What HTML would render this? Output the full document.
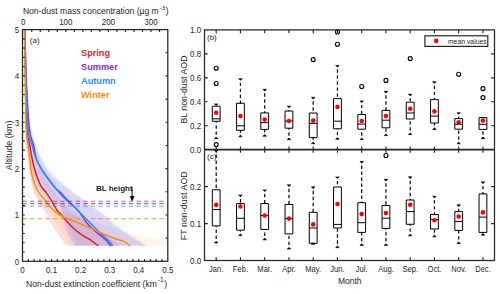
<!DOCTYPE html>
<html><head><meta charset="utf-8"><style>
html,body{margin:0;padding:0;background:#fff;width:500px;height:294px;overflow:hidden}
svg{display:block}
text{font-family:"Liberation Sans", sans-serif}
</style></head><body>
<svg width="500" height="294" viewBox="0 0 500 294">
<defs><filter id="sb" x="-5%" y="-5%" width="110%" height="110%"><feGaussianBlur stdDeviation="0.6"/></filter><clipPath id="lc"><rect x="22.5" y="29.6" width="145.3" height="231.7"/></clipPath></defs>
<g clip-path="url(#lc)"><g filter="url(#sb)">
<path d="M25.00,30.00 C25.13,40.00 25.38,73.33 25.80,90.00 C26.22,106.67 26.47,118.33 27.50,130.00 C28.53,141.67 29.92,151.33 32.00,160.00 C34.08,168.67 36.67,175.33 40.00,182.00 C43.33,188.67 47.00,194.83 52.00,200.00 C57.00,205.17 62.00,209.00 70.00,213.00 C78.00,217.00 90.45,220.78 100.00,224.00 C109.55,227.22 118.63,229.98 127.30,232.30 C135.97,234.62 145.22,236.37 152.00,237.90 C158.78,239.43 165.33,240.20 168.00,241.50 C170.67,242.80 168.00,245.00 168.00,245.70 L70.00,245.70 C69.00,244.08 66.00,239.28 64.00,236.00 C62.00,232.72 60.33,229.50 58.00,226.00 C55.67,222.50 52.67,218.50 50.00,215.00 C47.33,211.50 44.33,208.33 42.00,205.00 C39.67,201.67 37.67,198.33 36.00,195.00 C34.33,191.67 33.08,188.33 32.00,185.00 C30.92,181.67 30.25,179.17 29.50,175.00 C28.75,170.83 28.12,165.83 27.50,160.00 C26.88,154.17 26.23,150.00 25.80,140.00 C25.37,130.00 25.15,118.33 24.90,100.00 C24.65,81.67 24.40,41.67 24.30,30.00 Z" fill="#ff8c00" fill-opacity="0.085" stroke="none"/>
<path d="M25.00,30.00 C25.13,40.00 25.38,74.17 25.80,90.00 C26.22,105.83 26.55,115.00 27.50,125.00 C28.45,135.00 29.58,142.83 31.50,150.00 C33.42,157.17 36.08,162.17 39.00,168.00 C41.92,173.83 45.33,179.67 49.00,185.00 C52.67,190.33 56.17,195.00 61.00,200.00 C65.83,205.00 71.67,210.00 78.00,215.00 C84.33,220.00 92.00,224.88 99.00,230.00 C106.00,235.12 116.50,243.08 120.00,245.70 L66.00,245.70 C65.00,244.25 62.22,240.28 60.00,237.00 C57.78,233.72 55.07,229.92 52.70,226.00 C50.33,222.08 48.17,217.50 45.80,213.50 C43.43,209.50 40.38,205.25 38.50,202.00 C36.62,198.75 35.58,196.83 34.50,194.00 C33.42,191.17 32.75,188.17 32.00,185.00 C31.25,181.83 30.67,179.17 30.00,175.00 C29.33,170.83 28.67,165.83 28.00,160.00 C27.33,154.17 26.52,150.00 26.00,140.00 C25.48,130.00 25.18,118.33 24.90,100.00 C24.62,81.67 24.40,41.67 24.30,30.00 Z" fill="#dc1e28" fill-opacity="0.13" stroke="none"/>
<path d="M25.20,30.00 C25.38,38.33 25.67,65.83 26.30,80.00 C26.93,94.17 28.08,106.67 29.00,115.00 C29.92,123.33 30.72,125.33 31.80,130.00 C32.88,134.67 33.98,138.67 35.50,143.00 C37.02,147.33 38.18,151.30 40.90,156.00 C43.62,160.70 48.62,167.20 51.80,171.20 C54.98,175.20 57.63,177.50 60.00,180.00 C62.37,182.50 62.37,183.27 66.00,186.20 C69.63,189.13 75.47,192.97 81.80,197.60 C88.13,202.23 98.97,210.35 104.00,214.00 C109.03,217.65 109.65,217.65 112.00,219.50 C114.35,221.35 115.55,222.97 118.10,225.10 C120.65,227.23 123.98,229.98 127.30,232.30 C130.62,234.62 134.60,236.77 138.00,239.00 C141.40,241.23 146.08,244.58 147.70,245.70 L76.00,245.70 C75.00,243.08 72.00,235.12 70.00,230.00 C68.00,224.88 66.00,219.50 64.00,215.00 C62.00,210.50 60.33,206.67 58.00,203.00 C55.67,199.33 52.67,196.83 50.00,193.00 C47.33,189.17 44.33,184.67 42.00,180.00 C39.67,175.33 37.83,170.00 36.00,165.00 C34.17,160.00 32.58,155.83 31.00,150.00 C29.42,144.17 27.52,138.33 26.50,130.00 C25.48,121.67 25.27,116.67 24.90,100.00 C24.53,83.33 24.40,41.67 24.30,30.00 Z" fill="#1e90ff" fill-opacity="0.11" stroke="none"/>
<path d="M25.20,30.00 C25.33,38.33 25.45,65.83 26.00,80.00 C26.55,94.17 27.62,106.67 28.50,115.00 C29.38,123.33 30.25,125.33 31.30,130.00 C32.35,134.67 33.47,138.67 34.80,143.00 C36.13,147.33 37.02,151.17 39.30,156.00 C41.58,160.83 45.55,168.00 48.50,172.00 C51.45,176.00 54.42,177.67 57.00,180.00 C59.58,182.33 60.33,183.17 64.00,186.00 C67.67,188.83 72.83,192.42 79.00,197.00 C85.17,201.58 95.83,209.42 101.00,213.50 C106.17,217.58 106.83,218.83 110.00,221.50 C113.17,224.17 116.33,226.83 120.00,229.50 C123.67,232.17 127.72,234.80 132.00,237.50 C136.28,240.20 143.42,244.33 145.70,245.70 L74.30,245.70 C73.42,244.08 70.63,239.28 69.00,236.00 C67.37,232.72 65.58,229.50 64.50,226.00 C63.42,222.50 63.13,218.08 62.50,215.00 C61.87,211.92 61.78,209.33 60.70,207.50 C59.62,205.67 57.95,205.42 56.00,204.00 C54.05,202.58 51.33,201.17 49.00,199.00 C46.67,196.83 44.00,193.67 42.00,191.00 C40.00,188.33 38.33,185.67 37.00,183.00 C35.67,180.33 35.00,178.00 34.00,175.00 C33.00,172.00 31.92,169.17 31.00,165.00 C30.08,160.83 29.33,155.83 28.50,150.00 C27.67,144.17 26.60,138.33 26.00,130.00 C25.40,121.67 25.18,116.67 24.90,100.00 C24.62,83.33 24.40,41.67 24.30,30.00 Z" fill="#8a2be2" fill-opacity="0.15" stroke="none"/>
</g></g>
<path d="M24.60,30.00 C24.70,35.00 24.98,50.00 25.20,60.00 C25.42,70.00 25.62,78.33 25.90,90.00 C26.18,101.67 26.27,120.83 26.90,130.00 C27.53,139.17 28.78,140.00 29.70,145.00 C30.62,150.00 31.53,155.83 32.40,160.00 C33.27,164.17 34.02,166.90 34.90,170.00 C35.78,173.10 36.67,175.92 37.70,178.60 C38.73,181.28 39.73,183.83 41.10,186.10 C42.47,188.37 44.20,189.82 45.90,192.20 C47.60,194.58 49.37,197.30 51.30,200.40 C53.23,203.50 55.77,208.37 57.50,210.80 C59.23,213.23 59.88,212.92 61.70,215.00 C63.52,217.08 65.75,220.50 68.40,223.30 C71.05,226.10 74.83,229.55 77.60,231.80 C80.37,234.05 82.60,235.27 85.00,236.80 C87.40,238.33 89.85,239.53 92.00,241.00 C94.15,242.47 96.92,244.83 97.90,245.60" fill="none" stroke="#cc2230" stroke-width="1.45" stroke-linejoin="round" stroke-linecap="round"/>
<path d="M24.80,30.00 C24.95,35.00 25.37,50.00 25.70,60.00 C26.03,70.00 26.17,78.33 26.80,90.00 C27.43,101.67 28.38,120.83 29.50,130.00 C30.62,139.17 32.28,140.00 33.50,145.00 C34.72,150.00 35.22,155.58 36.80,160.00 C38.38,164.42 41.10,168.37 43.00,171.50 C44.90,174.63 46.15,176.05 48.20,178.80 C50.25,181.55 53.20,185.67 55.30,188.00 C57.40,190.33 59.18,191.22 60.80,192.80 C62.42,194.38 62.93,195.35 65.00,197.50 C67.07,199.65 70.85,203.32 73.20,205.70 C75.55,208.08 76.83,208.93 79.10,211.80 C81.37,214.67 84.38,219.87 86.80,222.90 C89.22,225.93 91.23,227.85 93.60,230.00 C95.97,232.15 98.77,233.97 101.00,235.80 C103.23,237.63 105.42,239.37 107.00,241.00 C108.58,242.63 109.92,244.83 110.50,245.60" fill="none" stroke="#8a2be2" stroke-width="1.45" stroke-linejoin="round" stroke-linecap="round"/>
<path d="M24.70,30.00 C24.83,35.00 25.22,50.00 25.50,60.00 C25.78,70.00 25.95,78.33 26.40,90.00 C26.85,101.67 27.27,120.83 28.20,130.00 C29.13,139.17 30.60,140.00 32.00,145.00 C33.40,150.00 34.73,155.58 36.60,160.00 C38.47,164.42 41.27,168.37 43.20,171.50 C45.13,174.63 46.23,176.12 48.20,178.80 C50.17,181.48 52.45,184.48 55.00,187.60 C57.55,190.72 60.50,194.48 63.50,197.50 C66.50,200.52 70.40,203.32 73.00,205.70 C75.60,208.08 77.23,209.93 79.10,211.80 C80.97,213.67 82.22,214.92 84.20,216.90 C86.18,218.88 88.57,221.22 91.00,223.70 C93.43,226.18 96.37,229.43 98.80,231.80 C101.23,234.17 103.53,235.97 105.60,237.90 C107.67,239.83 110.10,242.12 111.20,243.40 C112.30,244.68 112.03,245.23 112.20,245.60" fill="none" stroke="#1e90ff" stroke-width="1.45" stroke-linejoin="round" stroke-linecap="round"/>
<path d="M24.40,30.00 C24.48,35.00 24.73,50.00 24.90,60.00 C25.07,70.00 25.25,81.67 25.40,90.00 C25.55,98.33 25.67,103.33 25.80,110.00 C25.93,116.67 25.83,124.17 26.20,130.00 C26.57,135.83 27.37,140.00 28.00,145.00 C28.63,150.00 29.48,155.83 30.00,160.00 C30.52,164.17 30.53,166.67 31.10,170.00 C31.67,173.33 32.38,176.67 33.40,180.00 C34.42,183.33 35.30,186.67 37.20,190.00 C39.10,193.33 42.67,197.25 44.80,200.00 C46.93,202.75 48.58,204.83 50.00,206.50 C51.42,208.17 51.77,208.65 53.30,210.00 C54.83,211.35 56.68,213.12 59.20,214.60 C61.72,216.08 65.93,217.80 68.40,218.90 C70.87,220.00 71.65,220.25 74.00,221.20 C76.35,222.15 79.67,223.40 82.50,224.60 C85.33,225.80 88.05,227.08 91.00,228.40 C93.95,229.72 97.32,231.25 100.20,232.50 C103.08,233.75 105.67,234.82 108.30,235.90 C110.93,236.98 113.32,238.05 116.00,239.00 C118.68,239.95 122.10,240.50 124.40,241.60 C126.70,242.70 128.90,244.93 129.80,245.60" fill="none" stroke="#ff8c00" stroke-width="1.45" stroke-linejoin="round" stroke-linecap="round"/>
<line x1="22.5" y1="201.3" x2="167.8" y2="201.3" stroke="#8a2be2" stroke-width="1.1" stroke-dasharray="4.3,3.3" stroke-opacity="0.75"/>
<line x1="22.5" y1="203.6" x2="167.8" y2="203.6" stroke="#dc1e28" stroke-width="1.1" stroke-dasharray="4.3,3.3" stroke-opacity="0.75"/>
<line x1="22.5" y1="206.2" x2="167.8" y2="206.2" stroke="#1e90ff" stroke-width="1.1" stroke-dasharray="4.3,3.3" stroke-opacity="0.75"/>
<line x1="22.5" y1="218.6" x2="167.8" y2="218.6" stroke="#ff8c00" stroke-width="1.1" stroke-dasharray="4.3,3.3" stroke-opacity="0.75"/>
<rect x="22.5" y="29.6" width="145.3" height="231.70000000000002" fill="none" stroke="#262626" stroke-width="1.25"/>
<path d="M22.5,252.03h2.3 M22.5,242.76h2.3 M22.5,233.50h2.3 M22.5,224.23h2.3 M22.5,214.96h2.3 M22.5,205.69h2.3 M22.5,196.42h2.3 M22.5,187.16h2.3 M22.5,177.89h2.3 M22.5,168.62h2.3 M22.5,159.35h2.3 M22.5,150.08h2.3 M22.5,140.82h2.3 M22.5,131.55h2.3 M22.5,122.28h2.3 M22.5,113.01h2.3 M22.5,103.74h2.3 M22.5,94.48h2.3 M22.5,85.21h2.3 M22.5,75.94h2.3 M22.5,66.67h2.3 M22.5,57.40h2.3 M22.5,48.14h2.3 M22.5,38.87h2.3 M167.8,238.13h-2.3 M167.8,214.96h-2.3 M167.8,191.79h-2.3 M167.8,168.62h-2.3 M167.8,145.45h-2.3 M167.8,122.28h-2.3 M167.8,99.11h-2.3 M167.8,75.94h-2.3 M167.8,52.77h-2.3 M28.31,261.3v-2.3 M34.12,261.3v-2.3 M39.94,261.3v-2.3 M45.75,261.3v-2.3 M51.56,261.3v-2.3 M57.37,261.3v-2.3 M63.18,261.3v-2.3 M69.00,261.3v-2.3 M74.81,261.3v-2.3 M80.62,261.3v-2.3 M86.43,261.3v-2.3 M92.24,261.3v-2.3 M98.06,261.3v-2.3 M103.87,261.3v-2.3 M109.68,261.3v-2.3 M115.49,261.3v-2.3 M121.30,261.3v-2.3 M127.12,261.3v-2.3 M132.93,261.3v-2.3 M138.74,261.3v-2.3 M144.55,261.3v-2.3 M150.36,261.3v-2.3 M156.18,261.3v-2.3 M161.99,261.3v-2.3 M31.72,29.6v2.3 M40.24,29.6v2.3 M48.76,29.6v2.3 M57.28,29.6v2.3 M65.80,29.6v2.3 M74.32,29.6v2.3 M82.84,29.6v2.3 M91.36,29.6v2.3 M99.88,29.6v2.3 M108.40,29.6v2.3 M116.92,29.6v2.3 M125.44,29.6v2.3 M133.96,29.6v2.3 M142.48,29.6v2.3 M151.00,29.6v2.3 M159.52,29.6v2.3" stroke="#262626" stroke-width="1.15" fill="none"/>
<text transform="translate(17.00,264.70) scale(1,1.22)" font-size="8" text-anchor="middle" fill="#262626" font-weight="normal">0</text>
<text transform="translate(17.00,218.36) scale(1,1.22)" font-size="8" text-anchor="middle" fill="#262626" font-weight="normal">1</text>
<text transform="translate(17.00,172.02) scale(1,1.22)" font-size="8" text-anchor="middle" fill="#262626" font-weight="normal">2</text>
<text transform="translate(17.00,125.68) scale(1,1.22)" font-size="8" text-anchor="middle" fill="#262626" font-weight="normal">3</text>
<text transform="translate(17.00,79.34) scale(1,1.22)" font-size="8" text-anchor="middle" fill="#262626" font-weight="normal">4</text>
<text transform="translate(17.00,33.00) scale(1,1.22)" font-size="8" text-anchor="middle" fill="#262626" font-weight="normal">5</text>
<text transform="translate(22.50,273.10) scale(1,1.22)" font-size="8" text-anchor="middle" fill="#262626" font-weight="normal">0</text>
<text transform="translate(51.56,273.10) scale(1,1.22)" font-size="8" text-anchor="middle" fill="#262626" font-weight="normal">0.1</text>
<text transform="translate(80.62,273.10) scale(1,1.22)" font-size="8" text-anchor="middle" fill="#262626" font-weight="normal">0.2</text>
<text transform="translate(109.68,273.10) scale(1,1.22)" font-size="8" text-anchor="middle" fill="#262626" font-weight="normal">0.3</text>
<text transform="translate(138.74,273.10) scale(1,1.22)" font-size="8" text-anchor="middle" fill="#262626" font-weight="normal">0.4</text>
<text transform="translate(167.80,273.10) scale(1,1.22)" font-size="8" text-anchor="middle" fill="#262626" font-weight="normal">0.5</text>
<text transform="translate(23.20,25.00) scale(1,1.22)" font-size="8" text-anchor="middle" fill="#262626" font-weight="normal">0</text>
<text transform="translate(65.80,25.00) scale(1,1.22)" font-size="8" text-anchor="middle" fill="#262626" font-weight="normal">100</text>
<text transform="translate(108.40,25.00) scale(1,1.22)" font-size="8" text-anchor="middle" fill="#262626" font-weight="normal">200</text>
<text transform="translate(151.00,25.00) scale(1,1.22)" font-size="8" text-anchor="middle" fill="#262626" font-weight="normal">300</text>
<text x="22.9" y="14.1" font-size="8.57" text-anchor="start" fill="#262626" font-weight="normal" >Non-dust mass concentration (µg m<tspan dx="0.9" dy="-4.4" font-size="6.2">-3</tspan><tspan dx="0.5" dy="4.4">)</tspan></text>
<text x="26.1" y="286.8" font-size="8.57" text-anchor="start" fill="#262626" font-weight="normal" >Non-dust extinction coefficient (km<tspan dx="0.9" dy="-4.4" font-size="6.6">-1</tspan><tspan dx="0.6" dy="4.4">)</tspan></text>
<text x="11.8" y="145.4" font-size="8.85" text-anchor="middle" fill="#262626" font-weight="normal" transform="rotate(-90 11.8 145.4)">Altitude (km)</text>
<text x="29.8" y="42.6" font-size="8" text-anchor="start" fill="#262626" font-weight="normal" >(a)</text>
<text x="81.0" y="56.3" font-size="9.2" text-anchor="start" fill="#dc1e28" font-weight="bold" >Spring</text>
<text x="81.0" y="70.2" font-size="9.2" text-anchor="start" fill="#8a2be2" font-weight="bold" >Summer</text>
<text x="81.0" y="84.1" font-size="9.2" text-anchor="start" fill="#1e90ff" font-weight="bold" >Autumn</text>
<text x="81.0" y="97.9" font-size="9.2" text-anchor="start" fill="#ff8c00" font-weight="bold" >Winter</text>
<text x="95.9" y="190.6" font-size="8.0" text-anchor="start" fill="#1a1a1a" font-weight="bold" >BL height</text>
<path d="M132.1,188.3V197" stroke="#000" stroke-width="1"/>
<path d="M129.8,196L134.5,196L132.1,201.4Z" fill="#000"/>
<path d="M216.20,104.2V106.2 M216.20,138.5V121.3 M240.45,79V103.3 M240.45,136.5V130.3 M264.70,89.6V112.9 M264.70,135.9V129.4 M288.95,106.3V111 M288.95,139.4V128.2 M313.20,97.6V113 M313.20,143.5V137.6 M337.45,65.7V98.6 M337.45,139V128.8 M361.70,101.2V114.5 M361.70,139.4V129.2 M385.95,91.6V110.4 M385.95,135.3V127.8 M410.20,94.5V102.2 M410.20,134.3V119 M434.45,82V99.6 M434.45,129.2V123 M458.70,113V118.6 M458.70,143.5V129.2 M482.95,138.4V129.4 M216.20,150.8V189.8 M216.20,242.7V225.9 M240.45,195.3V203.5 M240.45,235.3V230.2 M264.70,190.2V203.5 M264.70,239.6V229.4 M288.95,185.1V204.5 M288.95,248.8V233.9 M313.20,187.1V212.3 M313.20,244V243.3 M337.45,177.2V187 M337.45,247.4V228 M361.70,161.8V202.7 M361.70,245.1V232.4 M385.95,179.6V205.5 M385.95,245.1V228.4 M410.20,177.1V200 M410.20,235.5V224.3 M434.45,196.5V214.5 M434.45,236.5V229 M458.70,205.1V211.6 M458.70,243.3V230.4 M482.95,182.2V193.9 M482.95,234.9V232.4" stroke="#000" stroke-width="1.2" stroke-dasharray="3.4,2.6" stroke-dashoffset="2.3" fill="none"/>
<path d="M214.40,103.90H218.00L216.20,105.50Z M214.40,138.80H218.00L216.20,137.20Z M238.65,78.70H242.25L240.45,80.30Z M238.65,136.80H242.25L240.45,135.20Z M262.90,89.30H266.50L264.70,90.90Z M262.90,136.20H266.50L264.70,134.60Z M287.15,106.00H290.75L288.95,107.60Z M287.15,139.70H290.75L288.95,138.10Z M311.40,97.30H315.00L313.20,98.90Z M311.40,143.80H315.00L313.20,142.20Z M335.65,65.40H339.25L337.45,67.00Z M335.65,139.30H339.25L337.45,137.70Z M359.90,100.90H363.50L361.70,102.50Z M359.90,139.70H363.50L361.70,138.10Z M384.15,91.30H387.75L385.95,92.90Z M384.15,135.60H387.75L385.95,134.00Z M408.40,94.20H412.00L410.20,95.80Z M408.40,134.60H412.00L410.20,133.00Z M432.65,81.70H436.25L434.45,83.30Z M432.65,129.50H436.25L434.45,127.90Z M456.90,112.70H460.50L458.70,114.30Z M456.90,143.80H460.50L458.70,142.20Z M481.15,138.70H484.75L482.95,137.10Z M214.40,150.50H218.00L216.20,152.10Z M214.40,243.00H218.00L216.20,241.40Z M238.65,195.00H242.25L240.45,196.60Z M238.65,235.60H242.25L240.45,234.00Z M262.90,189.90H266.50L264.70,191.50Z M262.90,239.90H266.50L264.70,238.30Z M287.15,184.80H290.75L288.95,186.40Z M287.15,249.10H290.75L288.95,247.50Z M311.40,186.80H315.00L313.20,188.40Z M311.40,244.30H315.00L313.20,242.70Z M335.65,176.90H339.25L337.45,178.50Z M335.65,247.70H339.25L337.45,246.10Z M359.90,161.50H363.50L361.70,163.10Z M359.90,245.40H363.50L361.70,243.80Z M384.15,179.30H387.75L385.95,180.90Z M384.15,245.40H387.75L385.95,243.80Z M408.40,176.80H412.00L410.20,178.40Z M408.40,235.80H412.00L410.20,234.20Z M432.65,196.20H436.25L434.45,197.80Z M432.65,236.80H436.25L434.45,235.20Z M456.90,204.80H460.50L458.70,206.40Z M456.90,243.60H460.50L458.70,242.00Z M481.15,181.90H484.75L482.95,183.50Z M481.15,235.20H484.75L482.95,233.60Z" fill="#000" stroke="#000" stroke-width="0.6" stroke-linejoin="round"/>
<path d="M212.30,106.2H220.10V121.3H212.30Z M212.30,118.8H220.10 M236.55,103.3H244.35V130.3H236.55Z M236.55,125.8H244.35 M260.80,112.9H268.60V129.4H260.80Z M260.80,122.7H268.60 M285.05,111H292.85V128.2H285.05Z M285.05,121H292.85 M309.30,113H317.10V137.6H309.30Z M309.30,123.3H317.10 M333.55,98.6H341.35V128.8H333.55Z M333.55,121.2H341.35 M357.80,114.5H365.60V129.2H357.80Z M357.80,124.1H365.60 M382.05,110.4H389.85V127.8H382.05Z M382.05,120.2H389.85 M406.30,102.2H414.10V119H406.30Z M406.30,113H414.10 M430.55,99.6H438.35V123H430.55Z M430.55,116.1H438.35 M454.80,118.6H462.60V129.2H454.80Z M454.80,124.3H462.60 M479.05,117.6H486.85V129.4H479.05Z M479.05,124.3H486.85 M212.30,189.8H220.10V225.9H212.30Z M212.30,209.6H220.10 M236.55,203.5H244.35V230.2H236.55Z M236.55,218.3H244.35 M260.80,203.5H268.60V229.4H260.80Z M260.80,215.5H268.60 M285.05,204.5H292.85V233.9H285.05Z M285.05,218.6H292.85 M309.30,212.3H317.10V243.3H309.30Z M309.30,228H317.10 M333.55,187H341.35V228H333.55Z M333.55,224.4H341.35 M357.80,202.7H365.60V232.4H357.80Z M357.80,222.7H365.60 M382.05,205.5H389.85V228.4H382.05Z M382.05,218.2H389.85 M406.30,200H414.10V224.3H406.30Z M406.30,211.6H414.10 M430.55,214.5H438.35V229H430.55Z M430.55,219.5H438.35 M454.80,211.6H462.60V230.4H454.80Z M454.80,221.6H462.60 M479.05,193.9H486.85V232.4H479.05Z M479.05,217.1H486.85" stroke="#000" stroke-width="1" fill="none"/>
<circle cx="216.20" cy="68.2" r="2.0" fill="none" stroke="#000" stroke-width="1.1"/>
<circle cx="216.20" cy="83.5" r="2.0" fill="none" stroke="#000" stroke-width="1.1"/>
<circle cx="216.20" cy="144.6" r="2.0" fill="none" stroke="#000" stroke-width="1.1"/>
<circle cx="313.20" cy="59.6" r="2.0" fill="none" stroke="#000" stroke-width="1.1"/>
<circle cx="337.45" cy="32" r="2.0" fill="none" stroke="#000" stroke-width="1.1"/>
<circle cx="337.45" cy="44.3" r="2.0" fill="none" stroke="#000" stroke-width="1.1"/>
<circle cx="361.70" cy="86.5" r="2.0" fill="none" stroke="#000" stroke-width="1.1"/>
<circle cx="385.95" cy="80.4" r="2.0" fill="none" stroke="#000" stroke-width="1.1"/>
<circle cx="410.20" cy="58.6" r="2.0" fill="none" stroke="#000" stroke-width="1.1"/>
<circle cx="458.70" cy="74.3" r="2.0" fill="none" stroke="#000" stroke-width="1.1"/>
<circle cx="482.95" cy="88.6" r="2.0" fill="none" stroke="#000" stroke-width="1.1"/>
<circle cx="482.95" cy="97.6" r="2.0" fill="none" stroke="#000" stroke-width="1.1"/>
<circle cx="385.95" cy="155.5" r="2.0" fill="none" stroke="#000" stroke-width="1.1"/>
<circle cx="216.20" cy="112.8" r="2.3" fill="#ff0000"/>
<circle cx="240.45" cy="116.1" r="2.3" fill="#ff0000"/>
<circle cx="264.70" cy="119.6" r="2.3" fill="#ff0000"/>
<circle cx="288.95" cy="121" r="2.3" fill="#ff0000"/>
<circle cx="313.20" cy="120.6" r="2.3" fill="#ff0000"/>
<circle cx="337.45" cy="106.9" r="2.3" fill="#ff0000"/>
<circle cx="361.70" cy="121" r="2.3" fill="#ff0000"/>
<circle cx="385.95" cy="116.1" r="2.3" fill="#ff0000"/>
<circle cx="410.20" cy="108.8" r="2.3" fill="#ff0000"/>
<circle cx="434.45" cy="111.4" r="2.3" fill="#ff0000"/>
<circle cx="458.70" cy="122.2" r="2.3" fill="#ff0000"/>
<circle cx="482.95" cy="120.6" r="2.3" fill="#ff0000"/>
<circle cx="216.20" cy="204.9" r="2.3" fill="#ff0000"/>
<circle cx="240.45" cy="206.5" r="2.3" fill="#ff0000"/>
<circle cx="264.70" cy="215.5" r="2.3" fill="#ff0000"/>
<circle cx="288.95" cy="218.6" r="2.3" fill="#ff0000"/>
<circle cx="313.20" cy="224.4" r="2.3" fill="#ff0000"/>
<circle cx="337.45" cy="204" r="2.3" fill="#ff0000"/>
<circle cx="361.70" cy="214.1" r="2.3" fill="#ff0000"/>
<circle cx="385.95" cy="213.1" r="2.3" fill="#ff0000"/>
<circle cx="410.20" cy="204.7" r="2.3" fill="#ff0000"/>
<circle cx="434.45" cy="220.2" r="2.3" fill="#ff0000"/>
<circle cx="458.70" cy="216.5" r="2.3" fill="#ff0000"/>
<circle cx="482.95" cy="212.4" r="2.3" fill="#ff0000"/>
<rect x="204.5" y="29.9" width="290.0" height="230.6" fill="none" stroke="#262626" stroke-width="1.25"/>
<line x1="204.5" y1="149.7" x2="494.5" y2="149.7" stroke="#262626" stroke-width="1.8"/>
<path d="M216.20,29.9v3.3 M216.20,146.40v6.3 M216.20,260.5v-3.3 M240.45,29.9v3.3 M240.45,146.40v6.3 M240.45,260.5v-3.3 M264.70,29.9v3.3 M264.70,146.40v6.3 M264.70,260.5v-3.3 M288.95,29.9v3.3 M288.95,146.40v6.3 M288.95,260.5v-3.3 M313.20,29.9v3.3 M313.20,146.40v6.3 M313.20,260.5v-3.3 M337.45,29.9v3.3 M337.45,146.40v6.3 M337.45,260.5v-3.3 M361.70,29.9v3.3 M361.70,146.40v6.3 M361.70,260.5v-3.3 M385.95,29.9v3.3 M385.95,146.40v6.3 M385.95,260.5v-3.3 M410.20,29.9v3.3 M410.20,146.40v6.3 M410.20,260.5v-3.3 M434.45,29.9v3.3 M434.45,146.40v6.3 M434.45,260.5v-3.3 M458.70,29.9v3.3 M458.70,146.40v6.3 M458.70,260.5v-3.3 M482.95,29.9v3.3 M482.95,146.40v6.3 M482.95,260.5v-3.3 M204.5,125.74h3.3 M494.5,125.74h-3.3 M204.5,101.78h3.3 M494.5,101.78h-3.3 M204.5,77.82h3.3 M494.5,77.82h-3.3 M204.5,53.86h3.3 M494.5,53.86h-3.3 M204.5,223.57h3.3 M494.5,223.57h-3.3 M204.5,186.63h3.3 M494.5,186.63h-3.3" stroke="#262626" stroke-width="1.15" fill="none"/>
<text transform="translate(201.20,153.20) scale(1,1.22)" font-size="8" text-anchor="end" fill="#262626" font-weight="normal">0.0</text>
<text transform="translate(201.20,129.24) scale(1,1.22)" font-size="8" text-anchor="end" fill="#262626" font-weight="normal">0.2</text>
<text transform="translate(201.20,105.28) scale(1,1.22)" font-size="8" text-anchor="end" fill="#262626" font-weight="normal">0.4</text>
<text transform="translate(201.20,81.32) scale(1,1.22)" font-size="8" text-anchor="end" fill="#262626" font-weight="normal">0.6</text>
<text transform="translate(201.20,57.36) scale(1,1.22)" font-size="8" text-anchor="end" fill="#262626" font-weight="normal">0.8</text>
<text transform="translate(201.20,33.40) scale(1,1.22)" font-size="8" text-anchor="end" fill="#262626" font-weight="normal">1.0</text>
<text transform="translate(201.20,264.00) scale(1,1.22)" font-size="8" text-anchor="end" fill="#262626" font-weight="normal">0.0</text>
<text transform="translate(201.20,227.07) scale(1,1.22)" font-size="8" text-anchor="end" fill="#262626" font-weight="normal">0.1</text>
<text transform="translate(201.20,190.13) scale(1,1.22)" font-size="8" text-anchor="end" fill="#262626" font-weight="normal">0.2</text>
<text transform="translate(216.20,271.90) scale(1,1.15)" font-size="7.6" text-anchor="middle" fill="#262626" font-weight="normal">Jan.</text>
<text transform="translate(240.45,271.90) scale(1,1.15)" font-size="7.6" text-anchor="middle" fill="#262626" font-weight="normal">Feb.</text>
<text transform="translate(264.70,271.90) scale(1,1.15)" font-size="7.6" text-anchor="middle" fill="#262626" font-weight="normal">Mar.</text>
<text transform="translate(288.95,271.90) scale(1,1.15)" font-size="7.6" text-anchor="middle" fill="#262626" font-weight="normal">Apr.</text>
<text transform="translate(313.20,271.90) scale(1,1.15)" font-size="7.6" text-anchor="middle" fill="#262626" font-weight="normal">May.</text>
<text transform="translate(337.45,271.90) scale(1,1.15)" font-size="7.6" text-anchor="middle" fill="#262626" font-weight="normal">Jun.</text>
<text transform="translate(361.70,271.90) scale(1,1.15)" font-size="7.6" text-anchor="middle" fill="#262626" font-weight="normal">Jul.</text>
<text transform="translate(385.95,271.90) scale(1,1.15)" font-size="7.6" text-anchor="middle" fill="#262626" font-weight="normal">Aug.</text>
<text transform="translate(410.20,271.90) scale(1,1.15)" font-size="7.6" text-anchor="middle" fill="#262626" font-weight="normal">Sep.</text>
<text transform="translate(434.45,271.90) scale(1,1.15)" font-size="7.6" text-anchor="middle" fill="#262626" font-weight="normal">Oct.</text>
<text transform="translate(458.70,271.90) scale(1,1.15)" font-size="7.6" text-anchor="middle" fill="#262626" font-weight="normal">Nov.</text>
<text transform="translate(482.95,271.90) scale(1,1.15)" font-size="7.6" text-anchor="middle" fill="#262626" font-weight="normal">Dec.</text>
<text transform="translate(349.70,283.60) scale(1,1.1)" font-size="8.5" text-anchor="middle" fill="#262626" font-weight="normal">Month</text>
<text x="186.9" y="89.5" font-size="8.8" text-anchor="middle" fill="#262626" font-weight="normal" transform="rotate(-90 186.9 89.5)">BL non-dust AOD</text>
<text x="186.9" y="205.7" font-size="8.9" text-anchor="middle" fill="#262626" font-weight="normal" transform="rotate(-90 186.9 205.7)">FT non-dust AOD</text>
<text x="207" y="39.9" font-size="8" text-anchor="start" fill="#262626" font-weight="normal" >(b)</text>
<text x="207" y="159.0" font-size="8" text-anchor="start" fill="#262626" font-weight="normal" >(c)</text>
<rect x="424.9" y="35.8" width="62.9" height="10.6" fill="#fff" stroke="#262626" stroke-width="1.2"/>
<circle cx="436.2" cy="40.9" r="2.3" fill="#ff0000"/>
<text x="447.9" y="43.5" font-size="6.85" text-anchor="start" fill="#262626" font-weight="normal" >mean values</text>
</svg>
</body></html>
